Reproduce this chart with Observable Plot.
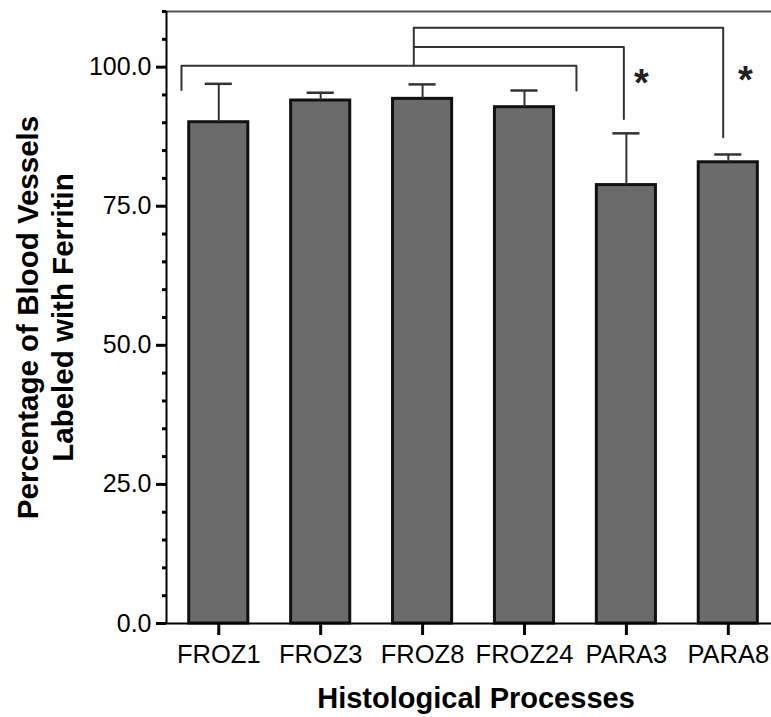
<!DOCTYPE html>
<html>
<head>
<meta charset="utf-8">
<script src="https://cdn.jsdelivr.net/npm/d3@7"></script>
<script src="https://cdn.jsdelivr.net/npm/@observablehq/plot@0.6"></script>
<style>
  html, body { margin: 0; padding: 0; background: #fff; }
  #chart svg { display: block; }
</style>
</head>
<body>
<div id="chart"></div>
<script>
// ---- data ----
const categories = ["FROZ1", "FROZ3", "FROZ8", "FROZ24", "PARA3", "PARA8"];
const means = [90.1, 94.0, 94.3, 92.8, 78.8, 82.9];
const sems = [6.9, 1.4, 2.6, 3.0, 9.3, 1.4];
const yTicks = [0, 25, 50, 75, 100];
const yMinorTicks = [5, 10, 15, 20, 30, 35, 40, 45, 55, 60, 65, 70, 80, 85, 90, 95, 105, 110];
const yLabel = ["Percentage of Blood Vessels", "Labeled with Ferritin"];
const xLabel = "Histological Processes";
// significance brackets (x in category-index units, y in % units)
const bracketIds = ["C", "C", "C", "C", "S", "S", "B", "B", "B", "A", "A", "A"];
const bracketX = [-0.366, -0.366, 3.51, 3.51, 1.914, 1.914, 1.914, 3.975, 3.975, 1.914, 4.95, 4.95];
const bracketY = [95.9, 100.25, 100.25, 95.8, 100.25, 107.1, 103.6, 103.6, 90.7, 107.1, 107.1, 87.4];
const starX = [4.148, 5.169];
const starY = [97.0, 97.6];
const topLine = [110];

// ---- tables built from the arrays ----
const rows = categories.map((c, i) => ({i, cat: c, mean: means[i], sem: sems[i]}));
const brackets = bracketIds.map((id, k) => ({id, x: bracketX[k], y: bracketY[k]}));
const stars = starX.map((x, k) => ({x, y: starY[k]}));

const font = "'Liberation Sans', Arial, Helvetica, sans-serif";
const xDomain = [-0.513, 5.424];
const halfBar = 0.29;
const halfCap = 0.133;

const chart = Plot.plot({
  width: 771,
  height: 717,
  marginLeft: 166,
  marginRight: 0,
  marginTop: 11,
  marginBottom: 94,
  style: {fontFamily: font, color: "#000", background: "#fff"},
  x: {type: "linear", domain: xDomain},
  y: {domain: [0, 110]},
  marks: [
    Plot.ruleY(topLine, {stroke: "#555", strokeWidth: 2}),
    Plot.line(brackets, {x: "x", y: "y", z: "id", stroke: "#333", strokeWidth: 2, curve: "linear"}),
    Plot.text(stars, {x: "x", y: "y", text: () => "*", fontSize: 38, fontWeight: "bold", fill: "#222"}),
    Plot.rectY(rows, {x1: d => d.i - halfBar, x2: d => d.i + halfBar, y1: 0, y2: "mean", fill: "#6b6b6b", stroke: "#111", strokeWidth: 3}),
    Plot.ruleX(rows, {x: "i", y1: "mean", y2: d => d.mean + d.sem, stroke: "#333", strokeWidth: 2}),
    Plot.ruleY(rows, {y: d => d.mean + d.sem, x1: d => d.i - halfCap, x2: d => d.i + halfCap, stroke: "#333", strokeWidth: 2.5}),
    Plot.ruleX([xDomain[0]], {y1: 0, y2: 110, stroke: "#000", strokeWidth: 2}),
    Plot.ruleY([0], {stroke: "#000", strokeWidth: 2}),
    Plot.axisY({ticks: yTicks, tickFormat: d3.format(".1f"), tickSize: 10, tickPadding: 5, fontSize: 25, strokeWidth: 3, label: null}),
    Plot.axisY({ticks: yMinorTicks, tickFormat: () => "", tickSize: 4, strokeWidth: 3, label: null}),
    Plot.axisX({ticks: d3.range(categories.length), tickFormat: i => categories[i], tickSize: 12, tickPadding: 9, fontSize: 25.5, strokeWidth: 3, label: null}),
    Plot.text([xLabel], {frameAnchor: "bottom", dy: 84, dx: 7, lineAnchor: "bottom", fontSize: 29, fontWeight: "bold"}),
    Plot.text([yLabel[0]], {frameAnchor: "left", textAnchor: "middle", dx: -129, rotate: -90, lineAnchor: "bottom", fontSize: 29.5, fontWeight: "bold"}),
    Plot.text([yLabel[1]], {frameAnchor: "left", textAnchor: "middle", dx: -94, rotate: -90, lineAnchor: "bottom", fontSize: 29.5, fontWeight: "bold"})
  ]
});
document.getElementById("chart").appendChild(chart);
</script>
</body>
</html>
